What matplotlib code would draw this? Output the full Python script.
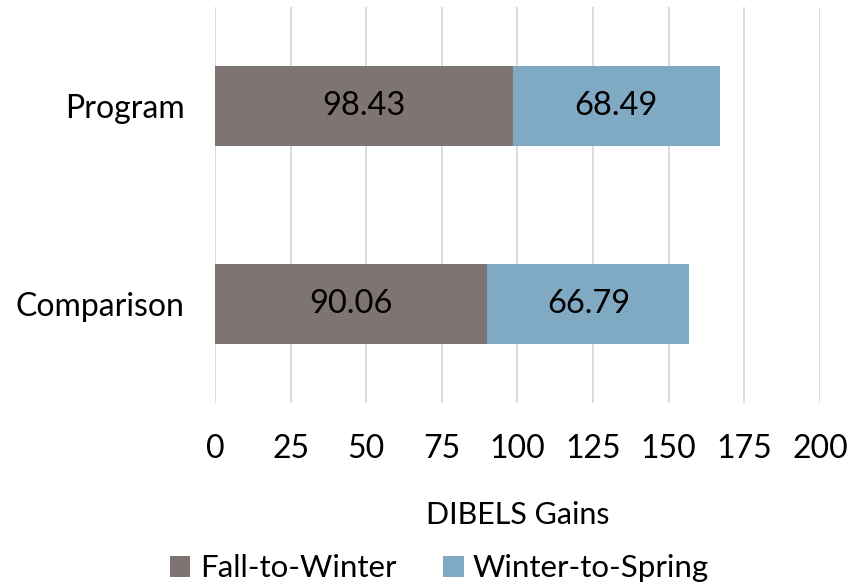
import matplotlib
matplotlib.use("Agg")
import matplotlib.pyplot as plt

categories = ["Comparison", "Program"]
fall_to_winter = [90.06, 98.43]
winter_to_spring = [66.79, 68.49]
series_names = ["Fall-to-Winter", "Winter-to-Spring"]
xticks = [0, 25, 50, 75, 100, 125, 150, 175, 200]

plt.rcParams['font.family'] = ['Lato', 'DejaVu Sans']

fig = plt.figure(figsize=(8.52, 5.86), dpi=100)
ax = fig.add_axes([0.2523, 0.3123, 0.7101, 0.6757])

c1 = "#7e7471"
c2 = "#80a9c3"
y = range(len(categories))
b1 = ax.barh(y, fall_to_winter, height=0.4, color=c1, label=series_names[0], zorder=3)
b2 = ax.barh(y, winter_to_spring, left=fall_to_winter, height=0.4, color=c2,
             label=series_names[1], zorder=3)
for bars, vals in ((b1, fall_to_winter), (b2, winter_to_spring)):
    for rect, v in zip(bars, vals):
        ax.text(rect.get_x() + rect.get_width() / 2, rect.get_y() + rect.get_height() / 2,
                f"{v:.2f}", ha="center", va="center", fontsize=23.5, color="black", zorder=4)

ax.set_xlim(0, 200)
ax.set_ylim(-0.5, 1.5)
ax.set_xticks(xticks)
ax.set_yticks(list(y))
ax.set_yticklabels(categories)
ax.tick_params(axis='x', length=0, pad=22, labelsize=23)
ax.tick_params(axis='y', length=0, pad=22, labelsize=23)
ax.grid(axis='x', color="#d9d9d9", linewidth=1.3, zorder=0)
for s in ax.spines.values():
    s.set_visible(False)
ax.set_xlabel("DIBELS Gains", fontsize=22, labelpad=27)

fig.legend(handles=[b1, b2], labels=series_names, loc="center", bbox_to_anchor=(0.516, 0.03),
           ncol=2, frameon=False, fontsize=22.5, handlelength=0.65, handleheight=0.65,
           handletextpad=0.3, columnspacing=1.5)

fig.savefig("out.png", dpi=100)
